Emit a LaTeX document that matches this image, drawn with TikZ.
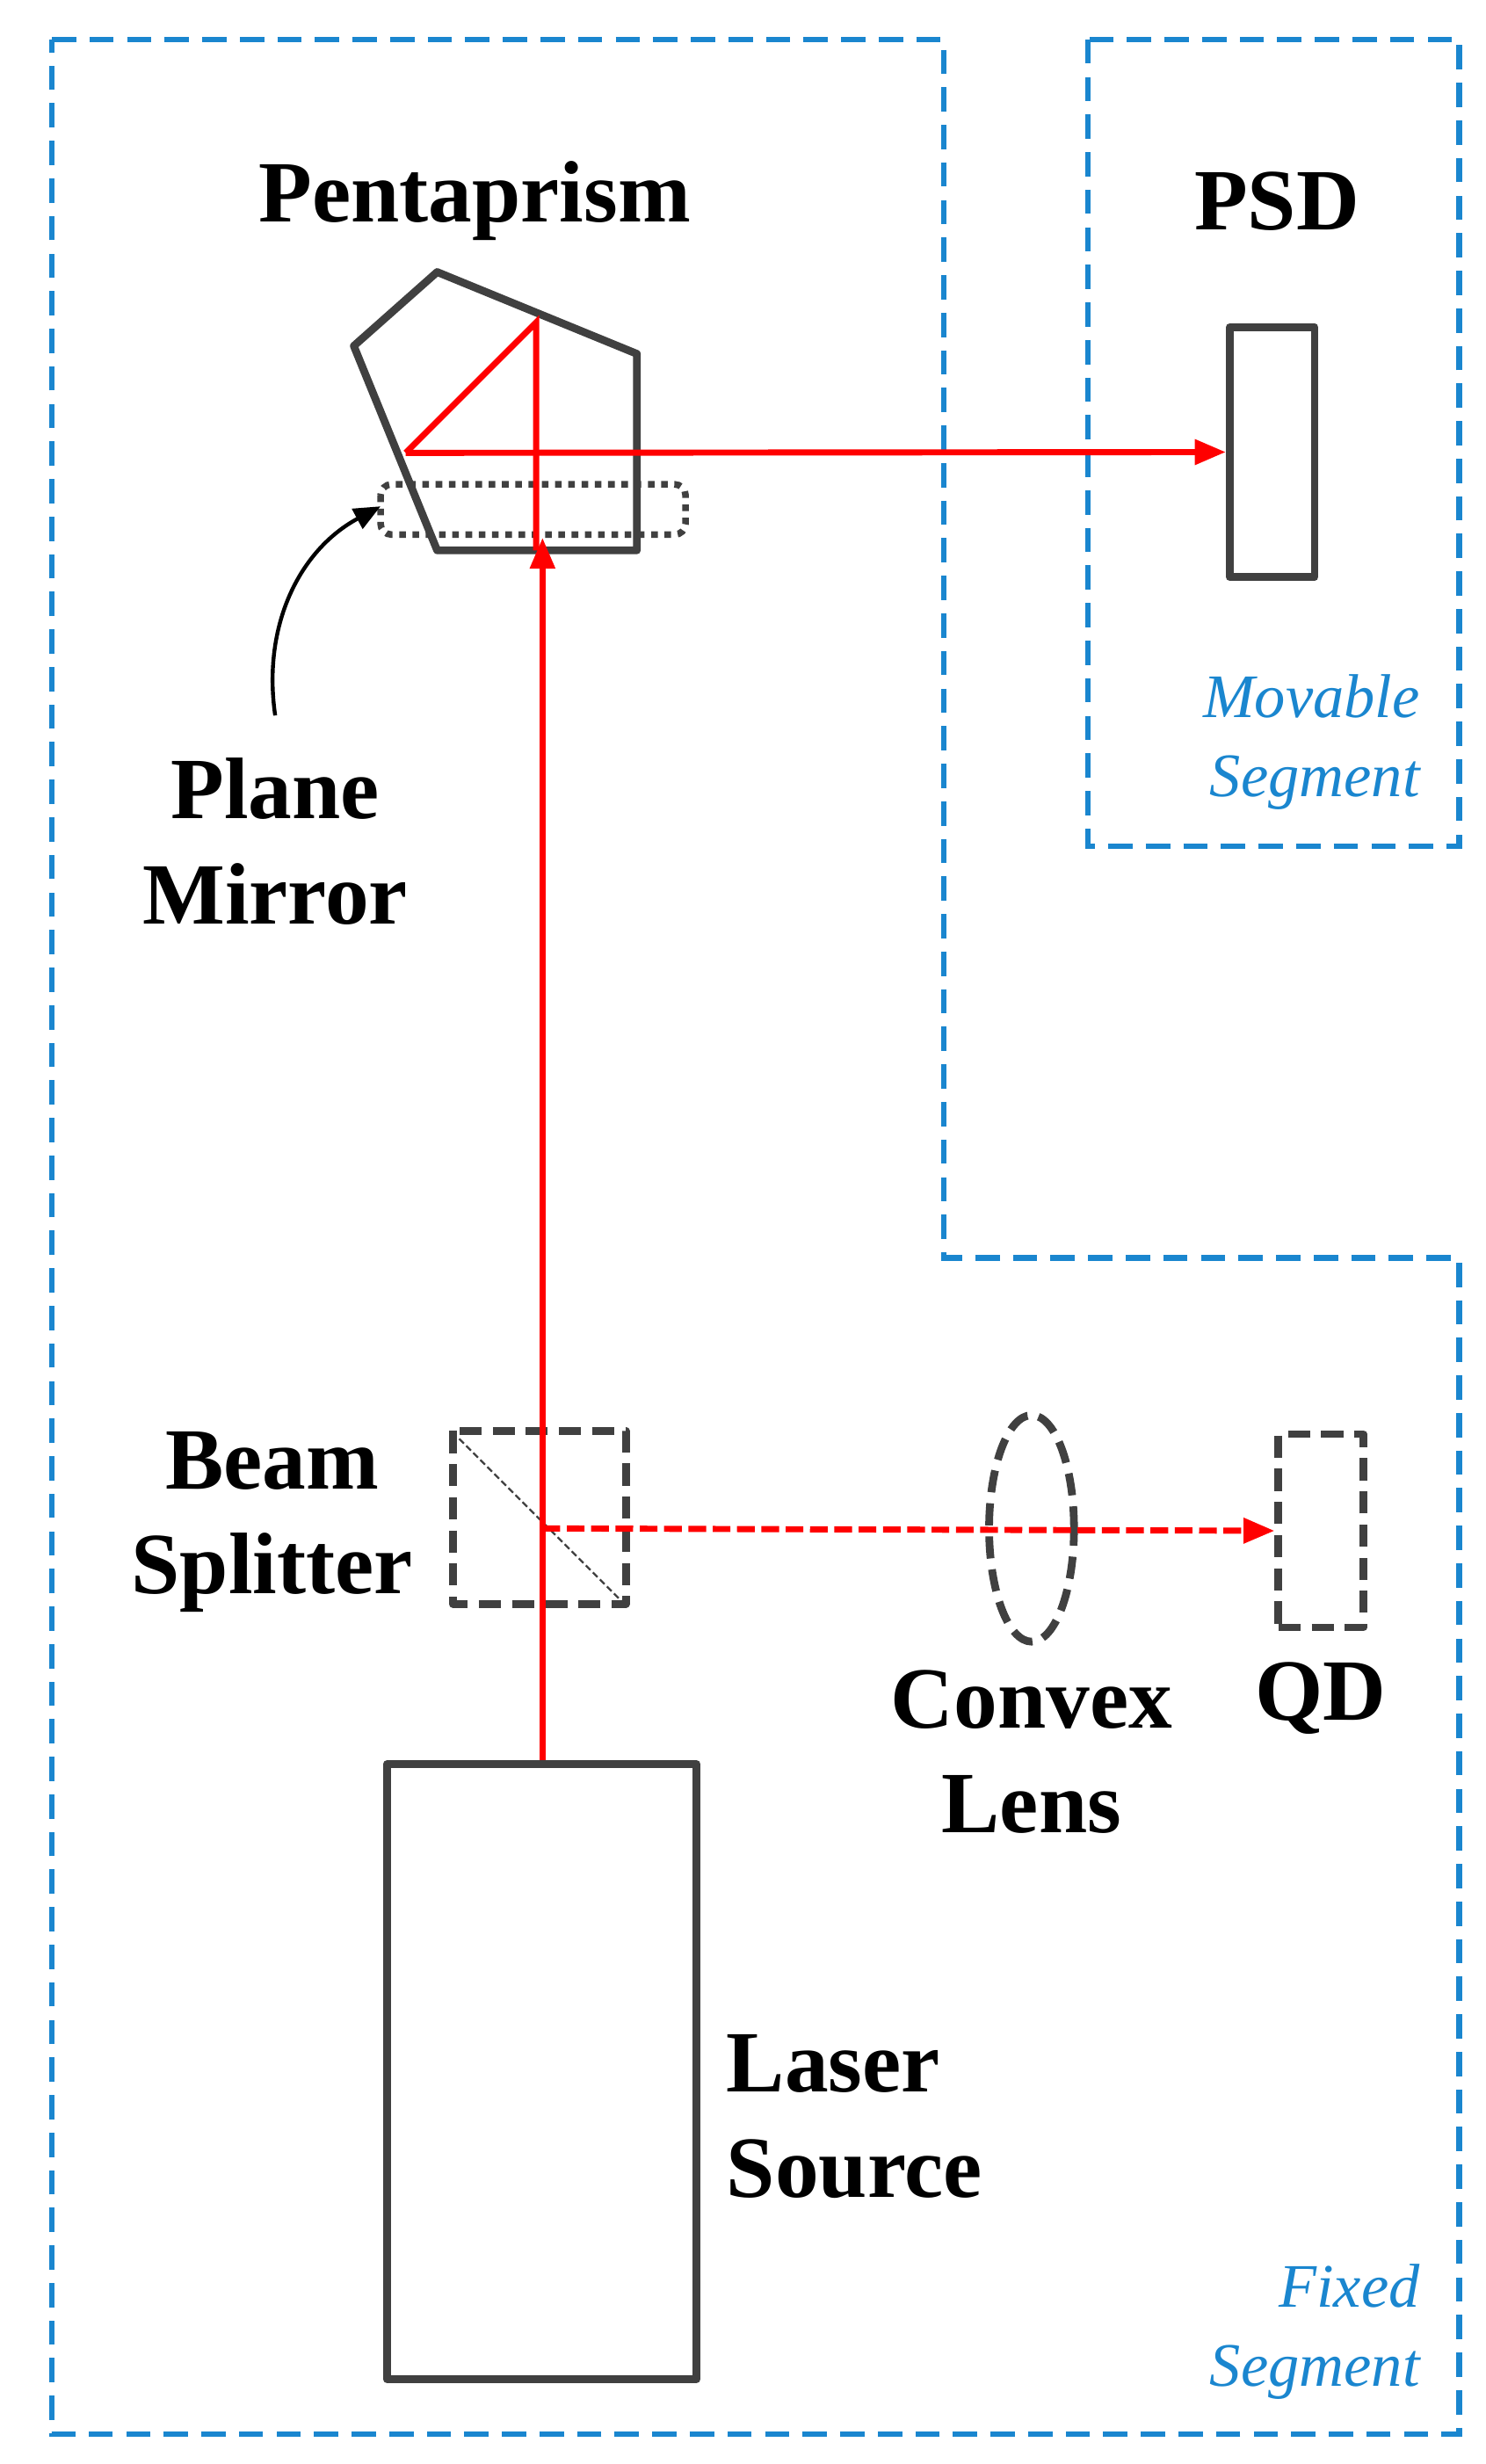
\documentclass[tikz,border=0pt]{standalone}
\usepackage{fontspec}
\setmainfont{Liberation Serif}
\usetikzlibrary{arrows.meta,shapes.geometric}
\definecolor{gr}{HTML}{404040}
\definecolor{bl}{HTML}{1A86CF}
\begin{document}
\begin{tikzpicture}[x=0.5mm,y=-0.5mm,
 comp/.style={draw=gr,line width=7pt,line join=round},
 seg/.style={draw=bl,line width=5pt,dash pattern=on 22pt off 12pt},
 lbl/.style={font=\bfseries\fontsize{79}{95}\selectfont,align=center,inner sep=0},
 slbl/.style={text=bl,font=\itshape\fontsize{56}{72}\selectfont,align=right,inner sep=0},
 ray/.style={draw=red,line width=5.5pt},
 tip/.style={-{Triangle[length=28pt,width=22pt]}}]
\useasboundingbox (0,0) rectangle (945,1567);
% segments
\draw[seg] (33,25)--(600,25)--(600,800)--(928,800)--(928,1548)--(33,1548)--cycle;
\draw[seg] (692,25) rectangle (928,538);
% pentaprism
\draw[comp] (225,220)--(278,173)--(405,225)--(405,350)--(278,350)--cycle;
\draw[gr,line width=6pt,dash pattern=on 6pt off 6pt,rounded corners=10pt] (242,308) rectangle (436,340);
\node[comp,minimum width=27mm,minimum height=79.5mm,inner sep=0] (psd) at (809,287.5) {};
% beam splitter, lens, QD, laser
\draw[comp,dash pattern=on 20pt off 10pt] (288,910) rectangle (398,1020);
\draw[gr,line width=1.8pt,dash pattern=on 6pt off 3pt] (292,915)--(395,1018);
\node[comp,dash pattern=on 20pt off 10pt,ellipse,minimum width=27mm,minimum height=72mm,inner sep=0] (lens) at (656,972) {};
\node[comp,dash pattern=on 20pt off 10pt,minimum width=27mm,minimum height=61.5mm,inner sep=0] (qd) at (840,973.5) {};
\node[comp,minimum width=98.5mm,minimum height=195.5mm,inner sep=0] (laser) at (344.5,1317.5) {};
% rays
\coordinate (top) at (341,205);
\coordinate (refl) at (258,288);
\coordinate (bsc) at (345,972);
\coordinate (pb) at (345,342);
\draw[ray] (laser.north -| bsc)--(bsc);
\draw[ray,tip] (bsc)--(pb);
\draw[ray] (341,350)--(top)--(refl);
\draw[ray,tip] (refl)--(psd.west);
\draw[ray,tip,dash pattern=on 16pt off 6pt] (bsc)--(qd.west);
% mirror pointer
\coordinate (mp) at (242,322);
\draw[line width=3.5pt,-{Triangle[length=24pt,width=20pt]}] (175,455) to[bend left=35] (mp);
% labels
\node[lbl] (l1) at (302,128) {Pentaprism};
\node[lbl] (l2) at (812,128) {PSD};
\node[lbl] (l3) at (175,535) {Plane\\Mirror};
\node[lbl] (l4) at (173,968) {Beam\\Splitter};
\node[lbl] (l5) at (656,1114) {Convex\\Lens};
\node[lbl] (l6) at (840,1080) {QD};
\node[lbl,align=left,anchor=west] (l7) at (462,1346) {Laser\\Source};
\node[slbl,anchor=east] (l8) at (903,472) {Movable\\Segment};
\node[slbl,anchor=east] (l9) at (903,1483) {Fixed\\Segment};
\end{tikzpicture}
\end{document}
